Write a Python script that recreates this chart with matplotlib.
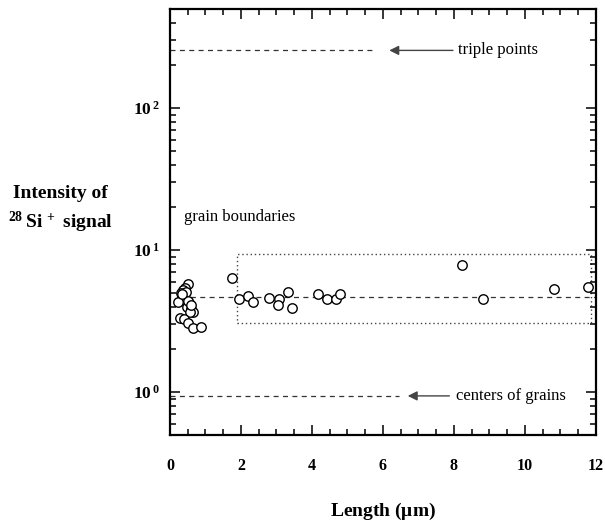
import numpy as np
import matplotlib
matplotlib.use("Agg")
import matplotlib.pyplot as plt
from matplotlib.patches import Rectangle

plt.rcParams["font.family"] = "Liberation Serif"
plt.rcParams["mathtext.fontset"] = "custom"
plt.rcParams["mathtext.rm"] = "Liberation Serif"
plt.rcParams["mathtext.bf"] = "Liberation Serif:bold"

#measured points (length in um, intensity)
length = [0.52, 0.42, 0.36, 0.30, 0.33, 0.23, 0.54, 0.47, 0.58, 0.66, 0.56, 0.28, 0.39,
          0.52, 0.66, 0.87, 0.45, 0.50, 0.60, 0.35,
          1.74, 1.95, 2.21, 2.33, 2.79, 3.08, 3.03, 3.33, 3.45, 4.16, 4.41, 4.67, 4.79,
          8.24, 8.83, 10.82, 11.78]
intensity = [5.76, 5.43, 5.23, 4.96, 4.69, 4.28, 4.22, 3.99, 3.84, 3.68, 3.68, 3.30, 3.25,
             3.05, 2.81, 2.86, 5.10, 4.40, 4.10, 4.90,
             6.32, 4.50, 4.74, 4.30, 4.59, 4.54, 4.10, 5.09, 3.90, 4.88, 4.50, 4.50, 4.88,
             7.84, 4.50, 5.34, 5.49]

#reference levels
triple_level = 255
boundary_level = 4.7
center_level = 0.94
box_x = [1.9, 11.86]
box_y = [3.05, 9.37]

fig = plt.figure(figsize=(6.05, 5.22), dpi=100)
ax = fig.add_axes([0.281, 0.167, 0.704, 0.816])

ax.set_yscale("log")
ax.set_xlim(0, 12)
ax.set_ylim(0.5, 500)

#dashed levels
ax.plot([0, 5.7], [triple_level] * 2, ls=(0, (4, 3.5)), color="#333333", lw=0.9)
ax.plot([0.3, 12], [boundary_level] * 2, ls=(0, (4, 3.5)), color="#333333", lw=0.9)
ax.plot([0, 6.45], [center_level] * 2, ls=(0, (4, 3.5)), color="#333333", lw=0.9)

#dotted box around the grain boundary points
ax.add_patch(Rectangle((box_x[0], box_y[0]), box_x[1] - box_x[0], box_y[1] - box_y[0],
                       fill=False, ls=(0, (1, 2)), lw=1.0, edgecolor="#444444"))

ax.plot(length, intensity, "o", mfc="white", mec="black", ms=6.8, mew=1.0, ls="none")

#annotations
arrow = dict(arrowstyle="-|>", color="#444444", lw=1.0, mutation_scale=14)
ax.annotate("", xy=(6.1, triple_level), xytext=(8.05, triple_level), arrowprops=arrow)
ax.text(8.1, triple_level, "triple points", fontsize=12, va="center", ha="left")
ax.annotate("", xy=(6.62, center_level), xytext=(7.95, center_level), arrowprops=arrow)
ax.text(8.05, center_level, "centers of grains", fontsize=12, va="center", ha="left")
ax.text(0.4, 17.2, "grain boundaries", fontsize=12, va="center", ha="left")

#ticks
ax.set_xticks(np.arange(0, 13, 2))
ax.set_xticks(np.arange(0, 12.1, 0.5), minor=True)
ax.set_xticklabels([str(v) for v in range(0, 13, 2)], fontsize=11.5, fontweight="bold")
ax.set_yticks([1, 10, 100])
ax.set_yticklabels([r"$\mathbf{10^{\,0}}$", r"$\mathbf{10^{\,1}}$", r"$\mathbf{10^{\,2}}$"], fontsize=12.5)
ax.tick_params(which="both", direction="in", top=True, right=True, width=1.1)
ax.tick_params(which="major", length=7)
ax.tick_params(which="minor", length=4.5)
ax.tick_params(axis="x", which="both", pad=17)
ax.tick_params(axis="y", which="both", pad=7)
for s in ax.spines.values():
    s.set_linewidth(1.6)

ax.set_xlabel(r"Length ($\mathbf{\mu}$m)", fontsize=14, fontweight="bold", labelpad=19)
fig.text(0.1, 0.63, "Intensity of", fontsize=14, fontweight="bold", ha="center", va="center")
fig.text(0.1, 0.573, r"$\mathbf{^{28}\,}$Si$\mathbf{^{\,+}}$ signal", fontsize=14, fontweight="bold", ha="center", va="center")

plt.savefig("out.png", dpi=100)
